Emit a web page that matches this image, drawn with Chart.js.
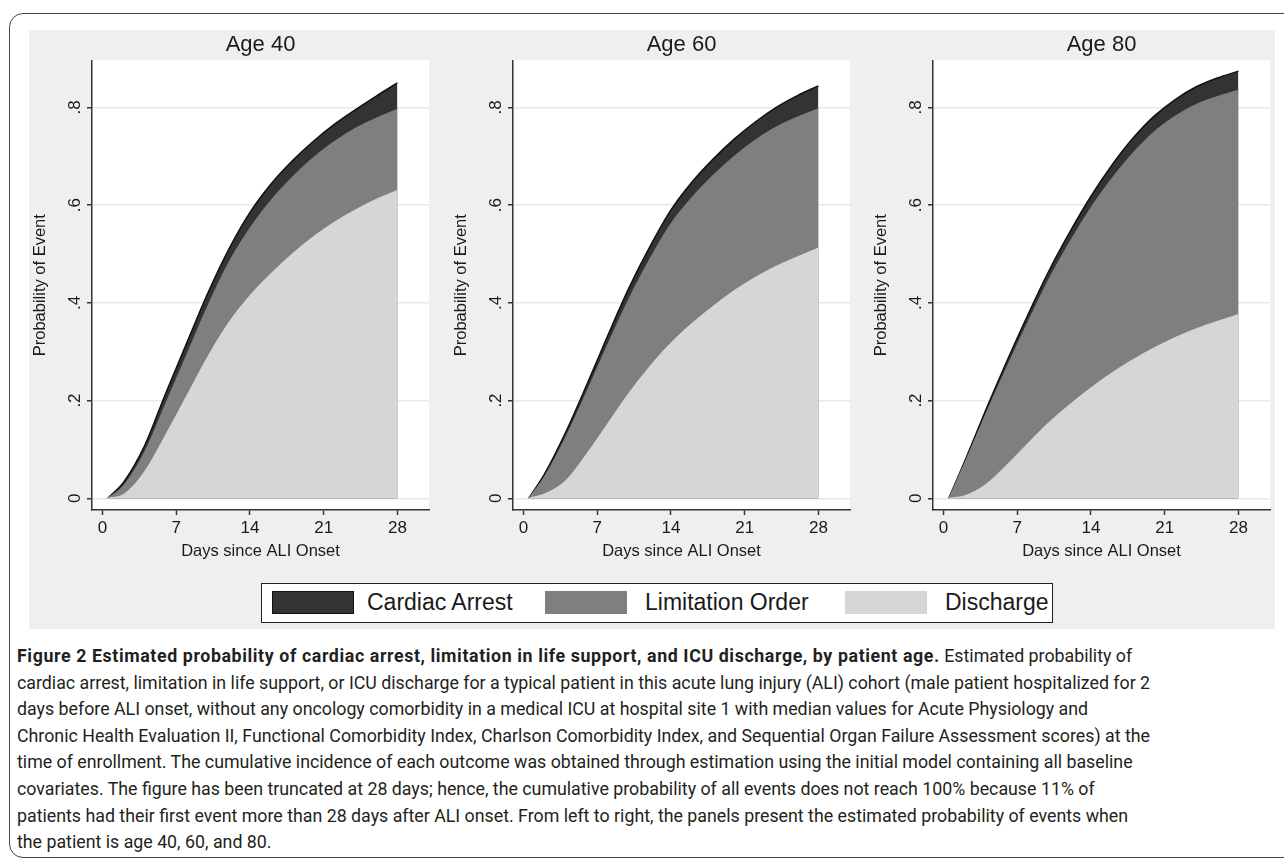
<!DOCTYPE html>
<html>
<head>
<meta charset="utf-8">
<script src="https://cdn.jsdelivr.net/npm/chart.js@4/dist/chart.umd.min.js"></script>
<style>
    body { margin: 0; width: 1284px; height: 859px; overflow: hidden; position: relative; background: #fff; }
    #frame { position: absolute; left: 9px; top: 13px; width: 1320px; height: 843px; border: 1.5px solid #444; border-radius: 14px; }
    #figure { position: absolute; left: 29px; top: 30px; width: 1246px; height: 599px; background: #efefef; }
    .panel { position: absolute; top: 30px; width: 408px; height: 545px; }
    #legend { position: absolute; left: 261px; top: 583px; width: 790px; height: 38px; border: 1.5px solid #222; background: #fff;
        font-family: "Liberation Sans", Arial, sans-serif; font-size: 23px; color: #1a1a1a; }
    .sw { position: absolute; top: 7px; width: 82px; height: 23px; box-sizing: border-box; }
    .lt { position: absolute; top: 5px; line-height: 27px; }
    #caption { position: absolute; left: 17px; top: 643px; font-family: Roboto, "Open Sans", sans-serif; font-size: 17.8px;
        line-height: 26.6px; color: #231f20; white-space: nowrap; }
    #caption b { font-weight: 700; letter-spacing: 0.6px; }
</style>
</head>
<body>
<div id="frame"></div>
<div id="figure"></div>
<canvas id="p40" class="panel" width="408" height="545" style="left:29px"></canvas>
<canvas id="p60" class="panel" width="408" height="545" style="left:450px"></canvas>
<canvas id="p80" class="panel" width="408" height="545" style="left:870px"></canvas>
<div id="legend"></div>
<div id="caption">
<b>Figure 2 Estimated probability of cardiac arrest, limitation in life support, and ICU discharge, by patient age.</b> Estimated probability of<br>
cardiac arrest, limitation in life support, or ICU discharge for a typical patient in this acute lung injury (ALI) cohort (male patient hospitalized for 2<br>
days before ALI onset, without any oncology comorbidity in a medical ICU at hospital site 1 with median values for Acute Physiology and<br>
Chronic Health Evaluation II, Functional Comorbidity Index, Charlson Comorbidity Index, and Sequential Organ Failure Assessment scores) at the<br>
time of enrollment. The cumulative incidence of each outcome was obtained through estimation using the initial model containing all baseline<br>
covariates. The figure has been truncated at 28 days; hence, the cumulative probability of all events does not reach 100% because 11% of<br>
patients had their first event more than 28 days after ALI onset. From left to right, the panels present the estimated probability of events when<br>
the patient is age 40, 60, and 80.
</div>
<script>
// days since onset where the curves were read
const days = [0.5, 2, 4, 6, 8, 10, 12, 14, 16, 18, 20, 22, 24, 26, 28];

// cumulative upper edge of each band (discharge, + limitation, + cardiac arrest)
const discharge40 = [0, 0.008, 0.055, 0.13, 0.21, 0.29, 0.36, 0.415, 0.46, 0.50, 0.535, 0.565, 0.59, 0.612, 0.630];
const limitation40 = [0, 0.026, 0.095, 0.194, 0.294, 0.394, 0.483, 0.553, 0.610, 0.657, 0.697, 0.730, 0.757, 0.778, 0.796];
const arrest40 = [0, 0.033, 0.108, 0.215, 0.318, 0.42, 0.51, 0.585, 0.643, 0.69, 0.73, 0.765, 0.795, 0.823, 0.850];

const discharge60 = [0, 0.009, 0.036, 0.091, 0.153, 0.215, 0.27, 0.318, 0.358, 0.393, 0.425, 0.452, 0.475, 0.494, 0.512];
const limitation60 = [0, 0.045, 0.125, 0.218, 0.315, 0.408, 0.49, 0.562, 0.616, 0.661, 0.70, 0.733, 0.76, 0.78, 0.797];
const arrest60 = [0, 0.05, 0.135, 0.232, 0.333, 0.43, 0.515, 0.59, 0.647, 0.694, 0.735, 0.77, 0.80, 0.824, 0.844];

const discharge80 = [0, 0.005, 0.028, 0.068, 0.112, 0.155, 0.192, 0.226, 0.257, 0.284, 0.308, 0.329, 0.347, 0.362, 0.376];
const limitation80 = [0, 0.072, 0.172, 0.268, 0.36, 0.448, 0.525, 0.595, 0.655, 0.707, 0.75, 0.782, 0.806, 0.822, 0.835];
const arrest80 = [0, 0.075, 0.18, 0.28, 0.375, 0.465, 0.545, 0.618, 0.682, 0.737, 0.782, 0.816, 0.842, 0.86, 0.874];

const xTicks = [0, 7, 14, 21, 28];
const yTicks = [0, 0.2, 0.4, 0.6, 0.8];
const yTickLabels = ['0', '.2', '.4', '.6', '.8'];

const seriesNames = ['Cardiac Arrest', 'Limitation Order', 'Discharge'];
const seriesColors = ['#333333', '#7f7f7f', '#d6d6d6'];

const FONT = '"Liberation Sans", Arial, sans-serif';
const TEXT = '#1a1a1a';

const plotBg = {
    id: 'plotBg',
    beforeDraw(chart) {
        const a = chart.chartArea;
        const ctx = chart.ctx;
        ctx.save();
        ctx.fillStyle = '#ffffff';
        ctx.fillRect(a.left, a.top, a.right - a.left, a.bottom - a.top);
        ctx.restore();
    }
};

function pts(vals) {
    return days.map((d, i) => ({ x: d, y: vals[i] }));
}

function makePanel(id, title, dis, lim, arr) {
    const ctx = document.getElementById(id).getContext('2d');
    new Chart(ctx, {
        type: 'line',
        data: {
            datasets: [
                { label: seriesNames[2], data: pts(dis), backgroundColor: seriesColors[2], borderColor: seriesColors[2], borderWidth: 1, fill: 'origin' },
                { label: seriesNames[1], data: pts(lim), backgroundColor: seriesColors[1], borderColor: seriesColors[1], borderWidth: 1, fill: 'origin' },
                { label: seriesNames[0], data: pts(arr), backgroundColor: seriesColors[0], borderColor: '#111111', borderWidth: 1.5, fill: 'origin' }
            ]
        },
        options: {
            responsive: false,
            animation: false,
            layout: { padding: { left: 0, right: 8, top: 0, bottom: 0 } },
            elements: { point: { radius: 0 }, line: { cubicInterpolationMode: 'monotone' } },
            plugins: {
                legend: { display: false },
                tooltip: { enabled: false },
                title: {
                    display: true,
                    text: title,
                    fullSize: false,
                    color: TEXT,
                    font: { family: FONT, size: 22, weight: 'normal' },
                    padding: { top: 2, bottom: 2 }
                }
            },
            scales: {
                x: {
                    type: 'linear',
                    min: -1,
                    max: 31,
                    afterBuildTicks: (s) => { s.ticks = xTicks.map(v => ({ value: v })); },
                    afterFit: (s) => { s.height = 65; },
                    grid: { drawOnChartArea: false, drawTicks: true, tickLength: 5, tickColor: '#333', tickWidth: 1.5 },
                    border: { display: true, color: '#333', width: 1.5 },
                    ticks: { color: TEXT, font: { family: FONT, size: 17 }, padding: 3, maxRotation: 0 },
                    title: { display: true, text: 'Days since ALI Onset', color: TEXT, font: { family: FONT, size: 16.5 }, padding: { top: 0, bottom: 14 } }
                },
                y: {
                    min: -0.024,
                    max: 0.896,
                    afterBuildTicks: (s) => { s.ticks = yTicks.map(v => ({ value: v })); },
                    afterFit: (s) => { s.width = 63; },
                    grid: { color: '#e8e8e8', lineWidth: 1.5, tickLength: 5, tickColor: '#333', tickWidth: 1.5 },
                    border: { display: true, color: '#333', width: 1.5 },
                    ticks: {
                        color: TEXT,
                        font: { family: FONT, size: 17 },
                        minRotation: 90,
                        maxRotation: 90,
                        crossAlign: 'center',
                        padding: 5,
                        callback: (v) => yTickLabels[yTicks.findIndex(t => Math.abs(t - v) < 1e-6)]
                    },
                    title: { display: true, text: 'Probability of Event', color: TEXT, font: { family: FONT, size: 16.5 }, padding: { top: 2, bottom: 0 } }
                }
            }
        },
        plugins: [plotBg]
    });
}

makePanel('p40', 'Age 40', discharge40, limitation40, arrest40);
makePanel('p60', 'Age 60', discharge60, limitation60, arrest60);
makePanel('p80', 'Age 80', discharge80, limitation80, arrest80);

// legend box below the panels
const legend = document.getElementById('legend');
const swLeft = [10, 283, 583];
const txtLeft = [105, 383, 683];
seriesNames.forEach((name, i) => {
    const sw = document.createElement('div');
    sw.className = 'sw';
    sw.style.left = swLeft[i] + 'px';
    sw.style.background = seriesColors[i];
    sw.style.border = i === 0 ? '1.5px solid #111' : 'none';
    legend.appendChild(sw);
    const t = document.createElement('div');
    t.className = 'lt';
    t.style.left = txtLeft[i] + 'px';
    t.textContent = name;
    legend.appendChild(t);
});
</script>
</body>
</html>
